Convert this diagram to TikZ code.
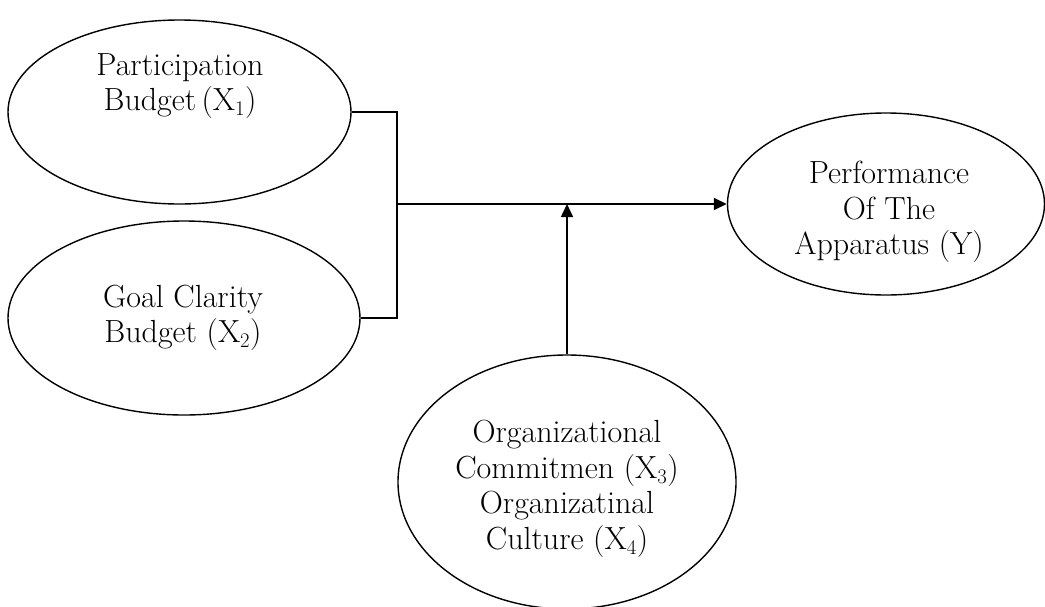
\documentclass[tikz,border=0pt]{standalone}
\usepackage{fontspec}
\usetikzlibrary{shapes.geometric,arrows.meta}
\begin{document}
\begin{tikzpicture}[x=1pt,y=-1pt,
  oval/.style={draw=black,line width=1.4pt,ellipse,inner sep=0pt},
  lbl/.style={align=center,inner sep=0pt,font=\fontsize{32}{35.5}\selectfont},
  conn/.style={line width=1.6pt},
  arr/.style={line width=1.6pt,-{Triangle[length=13pt,width=12pt]}}]
\useasboundingbox (0,0) rectangle (1045,606);
\node[oval,minimum width=343pt,minimum height=184pt] (p) at (179.5,112) {};
\node[lbl] (pt) at (180,86) {Participation\\Budget\,(X$_1$)};
\node[oval,minimum width=352pt,minimum height=194pt] (g) at (184,318) {};
\node[lbl] (gt) at (183,318) {Goal Clarity\\Budget (X$_2$)};
\node[oval,minimum width=317pt,minimum height=182pt] (y) at (886,204) {};
\node[lbl] (yt) at (889,212) {Performance\\Of The\\Apparatus (Y)};
\node[oval,minimum width=338pt,minimum height=254pt] (o) at (567,482) {};
\node[lbl] (ot) at (567,489) {Organizational\\Commitmen (X$_3$)\\Organizatinal\\Culture (X$_4$)};
\coordinate (jt) at (397,112);
\coordinate (jb) at (397,318);
\coordinate (j) at (397,204);
\coordinate (m) at (567,204);
\draw[conn] (p.east) -- (jt) -- (jb) -- (g.east);
\draw[arr] (j) -- (y.west);
\draw[arr] (o.north) -- (m);
\end{tikzpicture}
\end{document}
